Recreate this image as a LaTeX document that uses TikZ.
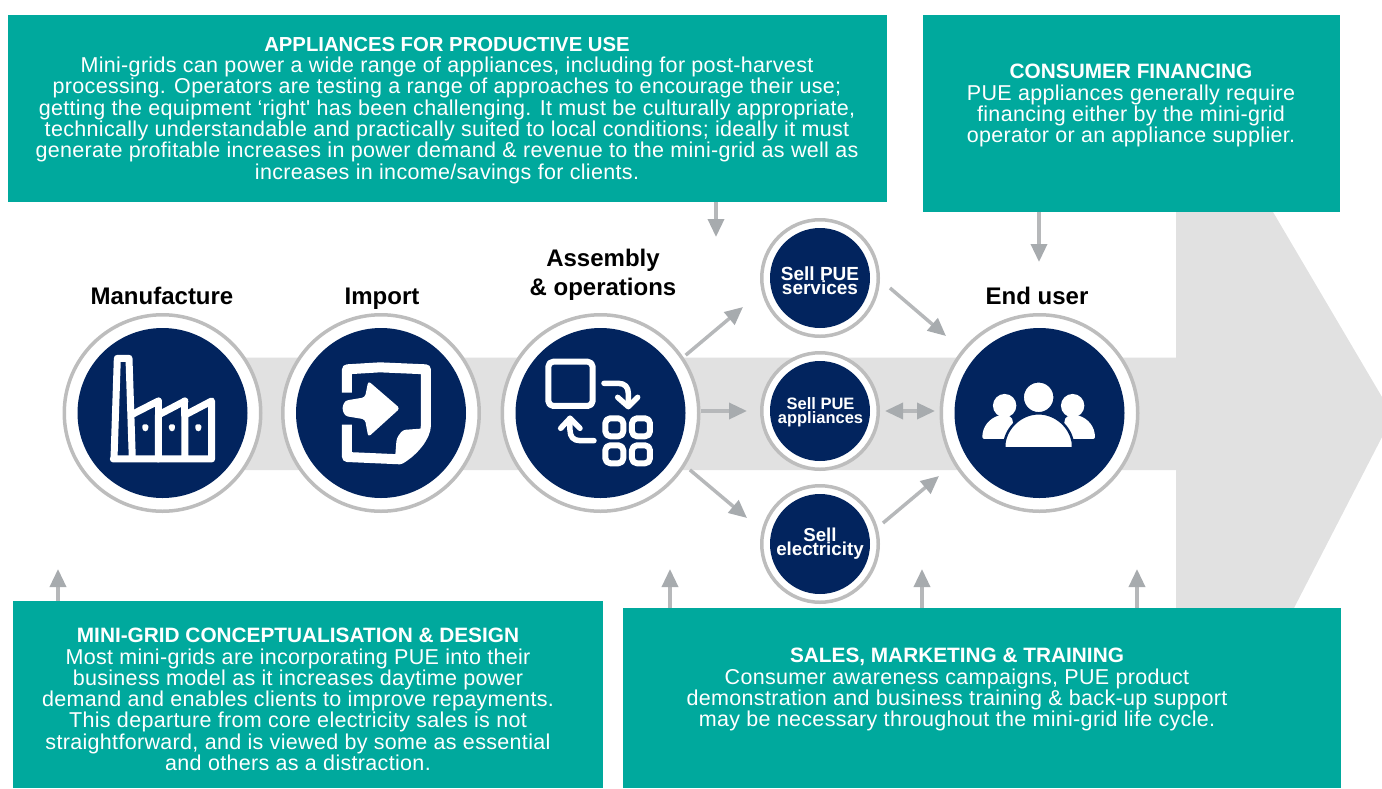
\documentclass[tikz,border=0pt]{standalone}
\usepackage{fontspec}
\setmainfont{Liberation Sans}
\newfontfamily\bodyfam[LetterSpace=1.5]{Liberation Sans}
\usetikzlibrary{arrows.meta}
\definecolor{teal}{HTML}{00A99D}
\definecolor{navy}{HTML}{02245E}
\definecolor{band}{HTML}{E1E1E1}
\definecolor{ringgrey}{HTML}{BDBDBD}
\definecolor{tipgrey}{HTML}{A7ABAE}
\definecolor{shaftgrey}{HTML}{B6B8BA}
\newcommand{\bodyfont}{\bodyfam\fontsize{21.5}{21.3}\selectfont}
\newcommand{\boxhead}[2]{{\normalfont\fontsize{#1}{21.3}\selectfont\bfseries #2}}
\tikzset{
 box/.style={fill=teal,draw=none,rectangle,inner sep=0pt,anchor=north west},
 boxtext/.style={text=white,align=center,anchor=north,inner sep=0pt,font=\bodyfont},
 hub/.style={circle,fill=white,draw=ringgrey,line width=3.5pt,minimum size=196.5pt,inner sep=0pt},
 hubcore/.style={circle,fill=navy,minimum size=170pt,inner sep=0pt},
 minihub/.style={circle,fill=white,draw=ringgrey,line width=3.5pt,minimum size=116.5pt,inner sep=0pt},
 minicore/.style={circle,fill=navy,minimum size=100pt,inner sep=0pt},
 minitext/.style={text=white,align=center,inner sep=0pt},
 steplabel/.style={text=black,align=center,inner sep=0pt,anchor=base,font=\fontsize{24}{28.5}\selectfont\bfseries},
 conn/.style={draw=shaftgrey,line width=3.5pt,-{Triangle[length=18pt,width=16pt,color=tipgrey]}},
 conntwo/.style={draw=shaftgrey,line width=3.5pt,{Triangle[length=18pt,width=16pt,color=tipgrey]}-{Triangle[length=18pt,width=16pt,color=tipgrey]}},
 link/.style={draw=none,-{Triangle[length=19pt,width=18pt,color=tipgrey]}},
 iconline/.style={draw=white,line join=round,line cap=round,fill=none},
}
\begin{document}
\begin{tikzpicture}[x=1pt,y=-1pt]
\useasboundingbox (0,0) rectangle (1382,788);
% grey arrow
\fill[band] (200,357.5) -- (1176,357.5) -- (1176,212) -- (1273,212) -- (1382,397) -- (1382,437) -- (1294,608) -- (1176,608) -- (1176,470) -- (200,470) -- cycle;
% boxes
\node[box,minimum width=879pt,minimum height=187pt] (bapp) at (8,15) {};
\node[box,minimum width=417pt,minimum height=197pt] (bfin) at (923,15) {};
\node[box,minimum width=590pt,minimum height=187pt] (bdes) at (13,601) {};
\node[box,minimum width=718pt,minimum height=180pt] (bsal) at (623,608) {};
\node[boxtext] (tapp) at (447,37) {\boxhead{20.3}{APPLIANCES FOR PRODUCTIVE USE}\\
Mini-grids can power a wide range of appliances, including for post-harvest\\
processing. Operators are testing a range of approaches to encourage their use;\\
getting the equipment ‘right' has been challenging. It must be culturally appropriate,\\
technically understandable and practically suited to local conditions; ideally it must\\
generate profitable increases in power demand \& revenue to the mini-grid as well as\\
increases in income/savings for clients.};
\node[boxtext] (tfin) at (1131,64) {\boxhead{20.8}{CONSUMER FINANCING}\\
PUE appliances generally require\\
financing either by the mini-grid\\
operator or an appliance supplier.};
\node[boxtext] (tdes) at (298,628) {\boxhead{20.8}{MINI-GRID CONCEPTUALISATION \& DESIGN}\\
Most mini-grids are incorporating PUE into their\\
business model as it increases daytime power\\
demand and enables clients to improve repayments.\\
This departure from core electricity sales is not\\
straightforward, and is viewed by some as essential\\
and others as a distraction.};
\node[boxtext] (tsal) at (957,648) {\boxhead{20.8}{SALES, MARKETING \& TRAINING}\\
Consumer awareness campaigns, PUE product\\
demonstration and business training \& back-up support\\
may be necessary throughout the mini-grid life cycle.};
% hubs
\node[hub] (man) at (162.5,413) {};
\node[hub] (imp) at (381,413) {};
\node[hub] (asm) at (600.5,413) {};
\node[hub] (end) at (1039.5,413) {};
\node[hubcore] (manc) at (man) {};
\node[hubcore] (impc) at (imp) {};
\node[hubcore] (asmc) at (asm) {};
\node[hubcore] (endc) at (end) {};
\node[minihub] (svc) at (820,278) {};
\node[minihub] (apl) at (820,411) {};
\node[minihub] (ele) at (820,544) {};
\node[minicore] (svcc) at (svc) {};
\node[minicore] (aplc) at (apl) {};
\node[minicore] (elec) at (ele) {};
\node[minitext,font=\fontsize{19}{14}\selectfont\bfseries] (tsvc) at (820,281) {Sell PUE\\services};
\node[minitext,font=\fontsize{16.5}{14}\selectfont\bfseries] (tapl) at (820.5,412.5) {Sell PUE\\appliances};
\node[minitext,font=\fontsize{18.7}{14}\selectfont\bfseries] (tele) at (820,544) {Sell\\electricity};
% labels
\node[steplabel] (lman) at (162,304) {Manufacture};
\node[steplabel] (limp) at (382,304) {Import};
\node[steplabel] (lasm1) at (603,266) {Assembly};
\node[steplabel] (lasm2) at (603,295) {\& operations};
\node[steplabel] (lend) at (1037,304) {End user};
% connector ends
\coordinate (e1) at (743,307);
\coordinate (e2) at (747,411);
\coordinate (e3) at (747,518);
\coordinate (s4) at (890,288);
\coordinate (e4) at (946,336);
\coordinate (s5) at (883,523);
\coordinate (e5) at (939,476);
\coordinate (s6) at (885,411);
\coordinate (e6) at (935,411);
\coordinate (eapp) at (716,237);
\coordinate (sapp) at (716,202);
\coordinate (efin) at (1039,262);
\coordinate (sfin) at (1039,212);
\coordinate (edes) at (58,569);
\coordinate (sdes) at (58,601);
\coordinate (es1) at (670,569);
\coordinate (ss1) at (670,608);
\coordinate (es2) at (922,569);
\coordinate (ss2) at (922,608);
\coordinate (es3) at (1137,569);
\coordinate (ss3) at (1137,608);
\draw[link] (man.east) -- (imp.west);
\draw[link] (imp.east) -- (asm.west);
\draw[conn,shorten <=3pt] (asm.34) -- (e1);
\draw[conn] (asm.east |- e2) -- (e2);
\draw[conn,shorten <=6pt] (asm.-32.5) -- (e3);
\draw[conn] (s4) -- (e4);
\draw[conn] (s5) -- (e5);
\draw[conntwo] (s6) -- (e6);
\draw[conn] (sapp) -- (eapp);
\draw[conn] (sfin) -- (efin);
\draw[conn] (sdes) -- (edes);
\draw[conn] (ss1) -- (es1);
\draw[conn] (ss2) -- (es2);
\draw[conn] (ss3) -- (es3);
% factory icon
\begin{scope}[shift={(60pt,-310pt)},x=0.3333pt,y=-0.3333pt]
\draw[iconline,line width=7pt,line cap=butt,line join=round] (162,447) -- (172,145) -- (207,145) -- (217,447);
\draw[iconline,line width=7pt] (160,447) -- (455,447) -- (455,273) -- (375,315) -- (375,447);
\draw[iconline,line width=7pt] (375,273) -- (295,315) -- (295,447);
\draw[iconline,line width=7pt] (375,273) -- (375,315);
\draw[iconline,line width=7pt] (295,273) -- (217,313);
\draw[iconline,line width=7pt] (295,273) -- (295,315);
\foreach \wx in {256,336,415}{
 \fill[white,rounded corners=1.5pt] (\wx-9,343) -- (\wx+9,343) -- (\wx+9,358) -- (\wx+4,364) -- (\wx-4,364) -- (\wx-9,358) -- cycle;
}
\end{scope}
% import icon
\begin{scope}[shift={(60pt,-310pt)},x=0.3333pt,y=-0.3333pt]
\draw[iconline,line width=10pt,line cap=butt] (861,248) -- (861,178) -- (960,172) -- (1098,178) -- (1098,345) .. controls (1098,380) and (1060,425) .. (1020,448) -- (861,441) -- (861,344);
\fill[white,rounded corners=3pt] (1005,448) -- (1010,385) -- (1028,360) -- (1095,355) -- (1085,385) -- (1030,445) -- cycle;
\fill[white,rounded corners=3pt] (1020,295) -- (925,213) -- (915,262) -- (855,272) -- (846,295) -- (855,318) -- (915,328) -- (925,381) -- cycle;
\end{scope}
% assembly icon
\begin{scope}[shift={(480pt,-200pt)},x=0.3333pt,y=-0.3333pt]
\draw[iconline,line width=6pt,rounded corners=5pt] (205,485) rectangle (338,618);
\foreach \qx/\qy in {376/655,456/655,376/736,456/736}{
 \draw[iconline,line width=6pt,rounded corners=5pt] (\qx,\qy) rectangle (\qx+54,\qy+54);
}
\draw[iconline,line width=5.5pt] (372,550) -- (415,550) .. controls (435,550) and (445,562) .. (445,580) -- (445,618);
\draw[iconline,line width=5.5pt] (413,592) -- (445,620) -- (473,592);
\draw[iconline,line width=5.5pt] (342,722) -- (300,722) .. controls (280,722) and (270,710) .. (270,690) -- (270,655);
\draw[iconline,line width=5.5pt] (242,685) -- (270,655) -- (300,685);
\end{scope}
% people icon
\begin{scope}[shift={(870pt,-200pt)},x=0.3333pt,y=-0.3333pt]
\fill[white] (404,617) circle[radius=11.7pt];
\fill[white] (608,617) circle[radius=11.7pt];
\fill[white,rounded corners=2pt] (337,717) .. controls (337,680) and (358,655) .. (392,645) -- (425,650) -- (440,717) -- cycle;
\fill[white,rounded corners=2pt] (675,717) .. controls (675,680) and (654,655) .. (620,645) -- (587,650) -- (572,717) -- cycle;
\draw[navy,line width=2.5pt,fill=white] (506,592) circle[radius=16pt];
\draw[navy,line width=2.5pt,fill=white,line join=round] (403,748) -- (403,730) .. controls (410,680) and (455,640) .. (506,640) .. controls (557,640) and (602,680) .. (609,730) -- (609,748) -- cycle;
\fill[navy] (390,741) rectangle (620,760);
\end{scope}
\end{tikzpicture}
\end{document}
